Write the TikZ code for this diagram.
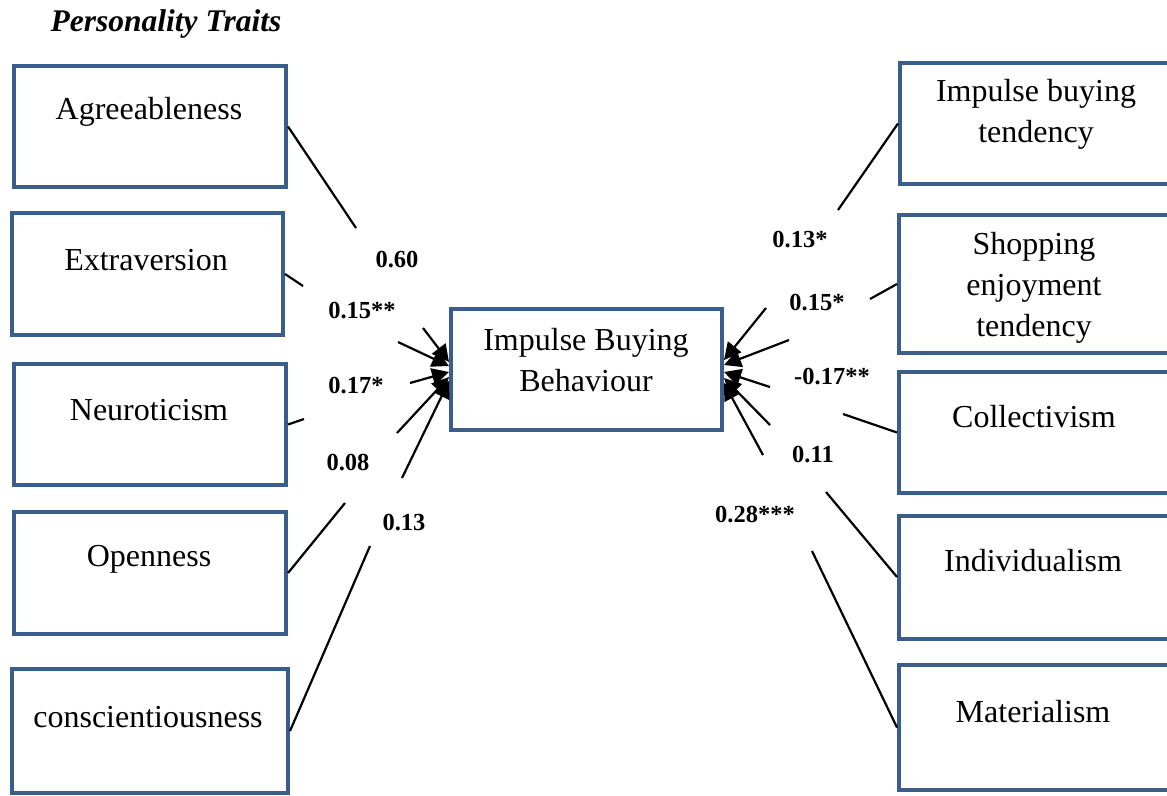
\documentclass[tikz,border=0pt]{standalone}
\usepackage{fontspec}
\setmainfont{Liberation Serif}
\usetikzlibrary{arrows.meta}
\definecolor{boxblue}{RGB}{59,93,138}
\begin{document}
\begin{tikzpicture}[x=1pt,y=-1pt,
  box/.style={draw=boxblue, line width=4pt, minimum width=272pt, minimum height=121pt, inner sep=0pt, fill=white},
  txt/.style={font=\fontsize{32}{41}\selectfont, align=center, inner sep=0pt},
  val/.style={font=\bfseries\fontsize{24.5}{28}\selectfont, inner sep=0pt},
  link/.style={line width=2.2pt},
  arr/.style={line width=2.2pt, -{Triangle[length=17pt,width=17pt]}}]
\useasboundingbox (0,0) rectangle (1167,795);
\clip (0,0) rectangle (1167,795);
% title
\node[font=\bfseries\itshape\fontsize{31.5}{36}\selectfont, inner sep=0pt] (title) at (166,24) {Personality Traits};
% left boxes
\node[box] (agr) at (150,126.5) {};
\node[txt] (agrt) at (149,112) {Agreeableness};
\node[box, minimum width=271pt, minimum height=122pt] (ext) at (147.5,274) {};
\node[txt] (extt) at (146,260) {Extraversion};
\node[box] (neu) at (150,424.5) {};
\node[txt] (neut) at (149,410) {Neuroticism};
\node[box, minimum height=122pt] (ope) at (150,573) {};
\node[txt] (opet) at (149,559) {Openness};
\node[box, minimum width=276pt, minimum height=124pt] (con) at (150,731) {};
\node[txt] (cont) at (148,717) {conscientiousness};
% centre
\node[box, minimum width=271pt] (ibb) at (586.5,369.5) {};
\node[txt] (ibbt) at (586,360) {Impulse Buying\\Behaviour};
% right boxes
\node[box, minimum height=121pt] (ibt) at (1036,123.5) {};
\node[txt] (ibtt) at (1036,114) {Impulse buying\\tendency};
\node[box, minimum height=138pt] (set) at (1035,284) {};
\node[txt] (sett) at (1034,288) {Shopping\\enjoyment\\tendency};
\node[box] (col) at (1035,432.5) {};
\node[txt] (colt) at (1034,417) {Collectivism};
\node[box, minimum height=123pt] (ind) at (1035,577) {};
\node[txt] (indt) at (1033,561) {Individualism};
\node[box, minimum height=125pt] (mat) at (1035,727.5) {};
\node[txt] (matt) at (1033,712) {Materialism};
% labels
\node[val] (v1) at (397,260) {0.60};
\node[val] (v2) at (362,311) {0.15**};
\node[val] (v3) at (356,386) {0.17*};
\node[val] (v4) at (348,463) {0.08};
\node[val] (v5) at (404,523) {0.13};
\node[val] (w1) at (800,240) {0.13*};
\node[val] (w2) at (817,303) {0.15*};
\node[val] (w3) at (832,377) {-0.17**};
\node[val] (w4) at (813,455) {0.11};
\node[val] (w5) at (755,515) {0.28***};
% break points
\coordinate (a1) at (356,228); \coordinate (a2) at (423,328); \coordinate (ta) at (449,362);
\coordinate (e1) at (303,286); \coordinate (e2) at (398,342); \coordinate (te) at (449,366);
\coordinate (n1) at (304,419); \coordinate (n2) at (410,383); \coordinate (tn) at (449,372);
\coordinate (o1) at (345,503); \coordinate (o2) at (397,433); \coordinate (to) at (449,377);
\coordinate (c1) at (370,546); \coordinate (c2) at (402,478); \coordinate (tc) at (449,381);
\coordinate (r1) at (838,210); \coordinate (r2) at (766,308); \coordinate (tr1) at (724,360);
\coordinate (s1) at (870,299); \coordinate (s2) at (789,340); \coordinate (tr2) at (724,365);
\coordinate (l1) at (843,414); \coordinate (l2) at (770,387); \coordinate (tr3) at (724,372);
\coordinate (i1) at (826,492); \coordinate (i2) at (770,425); \coordinate (tr4) at (724,378);
\coordinate (m1) at (812,551); \coordinate (m2) at (763,455); \coordinate (tr5) at (724,383);
% left connectors
\draw[link] (agr.east) -- (a1); \draw[arr] (a2) -- (ta);
\draw[link] (ext.east) -- (e1); \draw[arr] (e2) -- (te);
\draw[link] (neu.east) -- (n1); \draw[arr] (n2) -- (tn);
\draw[link] (ope.east) -- (o1); \draw[arr] (o2) -- (to);
\draw[link] (con.east) -- (c1); \draw[arr] (c2) -- (tc);
% right connectors
\draw[link] (ibt.west) -- (r1); \draw[arr] (r2) -- (tr1);
\draw[link] (set.west) -- (s1); \draw[arr] (s2) -- (tr2);
\draw[link] (col.west) -- (l1); \draw[arr] (l2) -- (tr3);
\draw[link] (ind.west) -- (i1); \draw[arr] (i2) -- (tr4);
\draw[link] (mat.west) -- (m1); \draw[arr] (m2) -- (tr5);
\end{tikzpicture}
\end{document}
